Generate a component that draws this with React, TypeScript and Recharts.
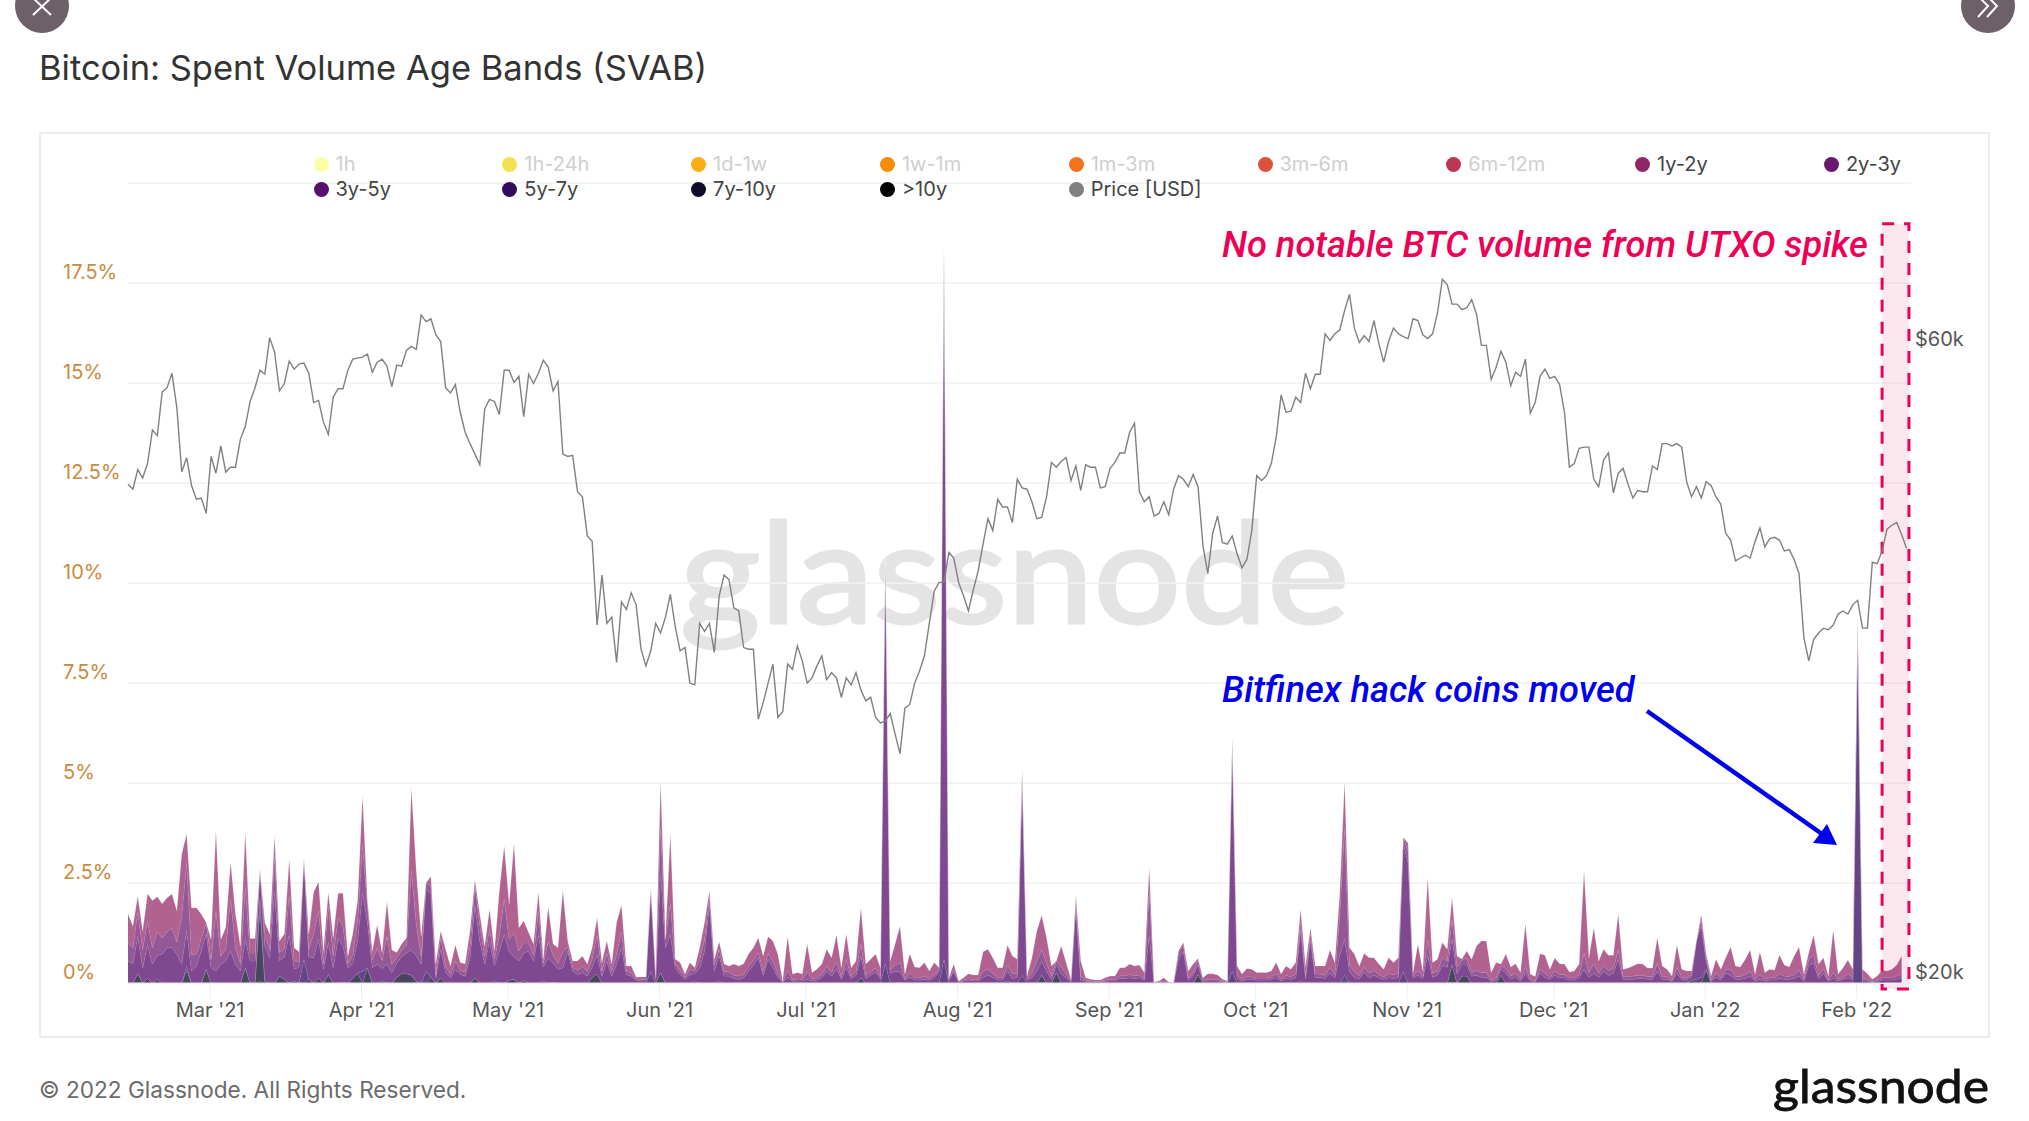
import React from 'react';
import { ComposedChart, Area, Line, XAxis, YAxis, CartesianGrid, ReferenceArea, Legend } from 'recharts';

// Chart values -------------------------------------------------------------
const FIRST_DAY = '2021-02-12';
const monthTickDays = [16.8, 47.8, 77.8, 108.8, 138.8, 169.8, 200.8, 230.8, 261.8, 291.8, 322.8, 353.8];
const monthLabels = ["Mar '21", "Apr '21", "May '21", "Jun '21", "Jul '21", "Aug '21", "Sep '21", "Oct '21", "Nov '21", "Dec '21", "Jan '22", "Feb '22"];
const percentTicks = [0, 2.5, 5, 7.5, 10, 12.5, 15, 17.5, 20];
const percentLabels = ['0%', '2.5%', '5%', '7.5%', '10%', '12.5%', '15%', '17.5%', ''];
const priceTicks = [20, 60];

// BTC price, thousands of USD, one value per day
const priceK = [
  46.6,46.2,47.8,47.1,48.3,51.2,50.7,54.7,55.1,56.5,
  53.2,47.6,48.8,46.5,45.4,45.5,44.3,48.9,47.5,49.8,
  47.6,48.0,48.0,50.4,51.5,53.8,55.1,56.8,56.4,60.1,
  58.6,54.8,55.5,57.7,56.9,57.4,57.5,56.5,53.7,53.9,
  51.9,50.8,54.2,55.0,55.0,56.8,57.9,58.0,58.1,58.4,
  56.6,57.6,57.9,57.2,55.2,57.3,57.2,58.8,59.2,58.9,
  62.5,61.8,62.1,60.4,59.7,55.1,54.6,55.4,52.8,51.0,
  50.0,49.1,48.2,53.1,54.0,53.8,52.6,56.8,56.8,55.6,
  56.2,52.4,56.4,55.5,56.5,57.8,57.1,54.8,55.7,49.1,
  48.9,49.0,46.0,45.6,42.6,42.2,36.5,39.8,36.6,37.0,
  34.2,38.0,37.5,38.6,37.8,35.0,34.0,34.9,36.6,36.0,
  37.0,38.5,36.4,34.9,35.1,33.0,32.9,36.6,36.1,36.6,
  34.8,38.4,39.8,39.5,37.6,37.4,35.1,35.0,35.0,31.0,
  31.9,33.0,34.1,31.1,31.4,34.1,33.8,35.2,34.3,33.0,
  33.3,34.0,34.6,33.2,33.6,33.3,32.2,33.3,32.9,33.6,
  32.6,32.0,32.2,31.1,30.8,30.9,31.3,30.2,29.2,31.6,
  31.8,33.0,33.7,34.6,36.6,38.7,39.3,39.3,41.4,41.0,
  39.3,38.4,37.4,38.8,40.1,42.0,43.9,43.0,45.4,44.8,
  44.8,43.6,47.0,46.3,46.2,45.2,43.9,44.0,45.6,48.4,
  48.0,48.5,48.8,46.9,48.1,46.1,48.2,48.0,48.0,46.3,
  46.4,47.9,48.4,49.2,49.2,51.0,51.8,46.0,45.2,45.6,
  44.1,44.3,45.2,44.2,46.2,47.3,47.0,46.4,47.4,46.4,
  41.9,39.9,42.8,44.1,42.1,42.0,42.6,41.3,40.3,40.9,
  43.0,47.3,46.9,47.3,48.3,50.6,54.4,52.8,52.9,54.2,
  53.7,56.5,55.0,56.4,56.4,60.5,59.8,60.5,60.9,63.0,
  64.8,61.1,59.6,60.3,59.7,61.9,59.5,57.6,59.7,61.1,
  60.5,60.2,60.0,62.1,61.9,60.4,60.0,60.5,62.7,66.5,
  65.9,63.7,63.7,63.1,63.3,64.2,62.6,59.3,59.3,55.9,
  57.1,58.7,57.6,55.3,56.6,56.2,57.9,52.7,53.7,56.2,
  56.9,56.0,56.2,55.4,52.8,48.0,48.3,49.6,49.7,49.7,
  47.0,46.4,48.6,49.2,45.9,47.5,47.9,46.6,45.5,46.1,
  46.0,46.0,48.1,47.8,50.0,50.0,49.8,50.0,49.7,46.8,
  45.6,46.4,45.5,46.8,46.5,45.6,45.0,42.8,42.3,40.8,
  41.0,41.2,41.0,42.2,43.2,41.8,42.4,42.5,42.3,41.5,
  41.6,40.9,39.9,35.7,34.3,35.6,36.0,36.3,36.2,36.5,
  37.2,37.4,37.2,37.8,38.1,36.3,36.3,40.7,40.6,41.5,
  43.1,43.4,43.6,42.7,41.7,
];

// Stack height per day, hundredths of a percent
const totalStack = [
  173,143,218,131,224,207,216,199,214,223,
  181,323,373,188,189,173,152,110,381,110,
  139,302,173,93,377,112,112,285,152,123,
  368,106,123,310,89,79,314,123,228,254,
  81,227,114,225,225,68,123,206,468,206,
  81,146,77,204,83,77,98,114,489,281,
  118,251,267,48,131,85,43,96,52,49,
  131,258,173,93,185,81,231,343,198,349,
  139,156,127,98,228,60,191,98,89,231,
  106,56,56,68,48,89,164,52,106,48,
  152,195,43,43,16,16,16,238,23,505,
  114,373,60,52,23,52,39,89,152,231,
  60,104,48,43,48,43,49,73,89,114,
  68,117,106,73,6,117,23,27,23,98,
  27,35,48,85,64,121,39,123,39,56,
  189,48,60,73,39,1060,56,98,143,23,
  74,41,39,52,31,52,39,1835,14,48,
  6,14,24,21,21,79,85,64,39,39,
  96,68,60,535,18,64,131,170,114,43,
  56,93,52,10,218,56,14,10,8,8,
  14,18,18,39,39,48,43,46,27,289,
  3,6,14,3,2,81,102,31,48,62,
  14,24,24,21,10,6,615,43,23,37,
  35,27,27,27,31,52,23,43,35,52,
  185,43,139,43,43,43,83,52,223,505,
  89,73,43,75,64,64,48,35,64,52,
  64,365,350,27,98,31,264,52,60,102,
  85,214,68,61,81,60,93,106,106,27,
  52,48,73,41,49,27,148,23,17,74,
  70,35,63,49,48,28,31,48,281,64,
  139,56,85,70,70,173,35,38,43,49,
  48,38,38,114,43,35,18,96,35,31,
  31,106,171,73,18,60,35,64,91,43,
  41,60,83,23,79,27,35,33,71,46,
  41,68,91,23,77,121,48,64,18,133,
  23,39,58,35,915,35,24,10,18,33,
  31,35,46,68,
];

const band3y5y = [
  56,48,93,39,85,48,60,73,89,89,
  73,48,89,31,43,81,89,39,31,48,
  56,81,48,31,72,56,56,172,89,64,
  230,39,56,122,31,39,297,56,64,97,
  35,81,39,114,89,39,39,81,198,114,
  39,48,31,48,27,35,43,52,64,64,
  48,206,206,14,72,27,14,35,22,18,
  64,181,106,48,106,39,81,122,72,56,
  56,68,81,56,122,35,64,48,35,39,
  81,31,22,27,18,27,48,18,56,18,
  48,89,22,18,8,6,6,231,10,248,
  89,122,39,22,10,22,18,39,81,198,
  31,64,18,18,12,10,14,30,45,65,
  20,60,40,15,3,15,5,6,6,10,
  6,8,14,30,18,35,10,40,12,20,
  55,12,20,28,12,1000,25,30,25,8,
  15,8,8,10,8,14,30,1740,8,30,
  3,6,8,6,6,15,20,15,8,8,
  25,12,15,480,8,15,30,35,30,10,
  20,25,14,4,190,8,5,4,3,3,
  5,6,6,12,12,14,12,14,8,120,
  1,2,4,1,1,60,80,8,20,25,
  5,6,6,6,3,2,560,12,6,10,
  10,8,8,8,10,14,6,12,10,14,
  130,12,110,15,15,12,25,14,70,90,
  30,14,12,28,14,20,14,10,14,12,
  15,320,300,14,20,12,70,15,20,45,
  40,65,25,30,30,18,20,15,15,5,
  8,15,25,10,15,6,25,6,4,25,
  15,10,20,14,14,8,8,14,35,15,
  25,15,30,20,25,60,10,10,10,12,
  12,10,10,30,10,10,5,25,10,8,
  8,110,130,20,5,15,8,25,20,10,
  10,12,18,6,10,6,8,8,12,10,
  10,12,18,6,45,50,12,25,5,12,
  6,10,14,10,20,8,6,2,4,8,
  8,8,10,14,
];

const band2y3y = [
  45,40,60,45,60,40,60,40,40,50,
  30,120,170,40,30,30,40,20,150,20,
  30,130,40,20,130,20,20,60,30,20,
  90,20,20,100,20,15,10,20,60,70,
  15,90,30,50,50,10,20,50,120,40,
  20,40,20,70,20,15,15,20,200,80,
  20,20,20,8,30,15,8,20,10,10,
  30,50,40,20,30,15,40,90,30,60,
  25,25,20,15,60,10,40,20,15,40,
  10,10,10,15,12,20,50,12,20,12,
  25,40,8,8,4,4,4,5,6,120,
  20,80,10,10,5,12,8,20,30,20,
  15,15,12,10,8,8,8,12,12,12,
  10,15,14,10,1,18,4,5,4,18,
  5,6,8,12,10,20,6,20,6,10,
  30,8,8,10,6,30,8,15,25,3,
  10,6,6,8,4,8,5,40,3,5,
  1,2,4,3,3,15,15,10,6,6,
  15,12,10,30,3,10,25,30,20,8,
  10,15,10,2,15,10,3,2,2,2,
  3,4,4,7,7,8,7,7,4,110,
  1,1,2,1,0,15,15,5,8,12,
  3,4,4,4,2,1,40,8,4,7,
  6,5,5,5,6,10,4,8,6,10,
  20,8,15,8,8,8,15,8,100,280,
  15,15,8,12,12,12,8,6,10,10,
  10,30,30,5,12,6,40,10,10,20,
  15,50,15,10,15,10,12,12,12,3,
  6,8,12,8,10,5,15,4,3,10,
  10,6,10,8,8,5,6,8,40,12,
  25,10,15,12,12,25,6,7,8,8,
  8,7,7,20,8,6,3,15,6,6,
  6,15,15,12,3,10,6,10,15,7,
  7,10,12,4,12,4,6,6,12,8,
  7,10,15,4,15,20,8,12,3,15,
  4,6,10,6,10,6,4,2,4,6,
  6,6,8,10,
];

// Occasional bands: [day, hundredths of a percent]
const band5y7y = [[12,10],[27,30],[36,60],[48,30],[61,30],[107,30],[155,50],[167,60],[183,20],[226,30],[249,15],[261,30],[321,10],[322,15],[354,860]];
const band7y10y = [[2,22],[4,12],[6,10],[12,33],[16,35],[24,39],[27,180],[28,5],[31,18],[32,10],[34,6],[37,10],[39,14],[41,22],[44,4],[46,12],[47,26],[49,39],[52,6],[55,15],[56,24],[57,24],[58,20],[59,5],[62,16],[64,14],[71,14],[75,6],[78,8],[79,10],[81,8],[85,6],[87,3],[95,14],[96,24],[109,24],[116,6],[121,6],[150,14],[158,3],[180,6],[187,18],[190,27],[219,22],[240,6],[249,6],[271,43],[273,18],[274,18],[281,21],[320,8],[323,31]];
const bandOver10y = [[2,3],[27,5],[109,3],[187,3],[271,4],[323,3]];

// Series and legend -------------------------------------------------------
const legendNames = ['1h','1h-24h','1d-1w','1w-1m','1m-3m','3m-6m','6m-12m','1y-2y','2y-3y','3y-5y','5y-7y','7y-10y','>10y','Price [USD]'];
const legendColors = ['#FCFFA4','#F1E04F','#FBAE12','#F98C0A','#F1731D','#DD513A','#BB3754','#932667','#6A176E','#57106E','#320A5E','#0E0B2B','#000000','#808080'];
const legendMuted = ['1h','1h-24h','1d-1w','1w-1m','1m-3m','3m-6m','6m-12m'];
const stackOrder = ['>10y','7y-10y','5y-7y','3y-5y','2y-3y','1y-2y'];
const stackOpacity = [0.76, 0.76, 0.76, 0.76, 0.72, 0.72];

const sparse = (pairs: number[][]) => new Map(pairs.map((p) => [p[0], p[1]] as [number, number]));
const over10 = sparse(bandOver10y), s7 = sparse(band7y10y), s5 = sparse(band5y7y);

const table = priceK.map((price, day) => {
  const row: any = { day, price };
  if (day >= totalStack.length) {
    stackOrder.forEach((k) => (row[k] = null));
    return row;
  }
  let left = totalStack[day] / 100;
  const take = (v: number) => { const t = Math.min(v / 100, left); left -= t; return t; };
  row['>10y'] = take(over10.get(day) ?? 0);
  row['7y-10y'] = take(s7.get(day) ?? 0);
  row['5y-7y'] = take(s5.get(day) ?? 0);
  row['3y-5y'] = take(band3y5y[day]);
  row['2y-3y'] = take(band2y3y[day]);
  row['1y-2y'] = left;
  return row;
});

const colorOf = (name: string) => legendColors[legendNames.indexOf(name)];

const F = 'Inter, sans-serif';

const LegendGrid = () => (
  <div style={{ position: 'relative', width: 2029, height: 0 }}>
    {legendNames.map((name, i) => {
      const col = i < 9 ? i : i - 9;
      const row = i < 9 ? 0 : 1;
      return (
        <div key={name} style={{ position: 'absolute', left: 313.5 + col * 188.8, top: 152 + row * 25, height: 24, display: 'flex', alignItems: 'center', whiteSpace: 'nowrap' }}>
          <span style={{ width: 15, height: 15, borderRadius: '50%', background: legendColors[i], display: 'inline-block', marginRight: 7 }} />
          <span style={{ fontFamily: F, fontSize: 20, color: legendMuted.includes(name) ? '#cfcfcf' : '#444' }}>{name}</span>
        </div>
      );
    })}
  </div>
);

const PercentTick = (p: any) => (
  <text x={63} y={p.y - 11} dominantBaseline="central" fontFamily={F} fontSize={20} fill="#cc8a3c">
    {percentLabels[percentTicks.indexOf(p.payload.value)]}
  </text>
);

const PriceTick = (p: any) => (
  <text x={1915} y={p.y} dominantBaseline="central" fontFamily={F} fontSize={20} fill="#555">
    {`$${p.payload.value}k`}
  </text>
);

export default function App() {
  return (
    <div style={{ position: 'absolute', left: 0, top: 0, width: 2029, height: 1121, background: '#fff', overflow: 'hidden' }}>
      <div style={{ position: 'absolute', left: 39, top: 132, width: 1951, height: 906, border: '2px solid #ececec', boxSizing: 'border-box' }} />
      <div style={{ position: 'absolute', left: 39, top: 47, fontFamily: F, fontSize: 34.5, color: '#333', whiteSpace: 'nowrap' }}>
        Bitcoin: Spent Volume Age Bands (SVAB)
      </div>
      <div style={{ position: 'absolute', left: 39, top: 1076, fontFamily: F, fontSize: 22.6, color: '#6b6b6b', whiteSpace: 'nowrap' }}>
        © 2022 Glassnode. All Rights Reserved.
      </div>

      <svg width={2029} height={1121} style={{ position: 'absolute', left: 0, top: 0 }}>
        <text x={680} y={623} fontFamily="Lato, sans-serif" fontSize={140} fill="#e4e4e4" stroke="#e4e4e4" strokeWidth={3} textLength={669} lengthAdjust="spacingAndGlyphs">glassnode</text>
        <text x={1773} y={1103} fontFamily="Lato, sans-serif" fontSize={47} fill="#111" stroke="#111" strokeWidth={0.8} textLength={216} lengthAdjust="spacingAndGlyphs">glassnode</text>
        <circle cx={42} cy={6} r={27} fill="#6e6068" />
        <path d="M33 -2 L51 15 M51 -2 L33 15" stroke="#fff" strokeWidth={2} />
        <circle cx={1988} cy={6} r={27} fill="#6e6068" />
        <path d="M1978 -4 L1988 6 L1978 17 M1987 -4 L1997 6 L1987 17" stroke="#fff" strokeWidth={2} fill="none" />
      </svg>

      <div style={{ position: 'absolute', left: 0, top: 0 }}>
        <ComposedChart width={2029} height={1121} data={table} margin={{ top: 183, right: 0, bottom: 97.7, left: 0 }}>
          <CartesianGrid yAxisId="pct" horizontal vertical={false} stroke="#f2f2f2" strokeWidth={1.5} />
          <XAxis
            dataKey="day"
            type="number"
            domain={[0, 365]}
            ticks={monthTickDays}
            tickFormatter={(v: number) => monthLabels[monthTickDays.indexOf(v)]}
            tick={{ fontFamily: F, fontSize: 20, fill: '#555' }}
            tickSize={16}
            tickMargin={3}
            tickLine={{ stroke: '#eeeeee' }}
            axisLine={{ stroke: '#eeeeee', strokeWidth: 1.5 }}
            interval={0}
            height={40}
          />
          <YAxis yAxisId="pct" orientation="left" width={128} domain={[0, 20]} ticks={percentTicks} tick={<PercentTick />} axisLine={false} tickLine={false} interval={0} />
          <YAxis yAxisId="price" orientation="right" width={117.6} scale="log" domain={[19.6, 78.6]} ticks={priceTicks} allowDataOverflow tick={<PriceTick />} axisLine={false} tickLine={false} interval={0} />
          <ReferenceArea yAxisId="pct" x1={359} x2={364.5} y1={-0.14} y2={18.98} ifOverflow="visible" fill="#f2457e" fillOpacity={0.13} stroke="#e8005a" strokeWidth={3} strokeDasharray="12 10" />
          {stackOrder.map((name, i) => (
            <Area
              key={name}
              yAxisId="pct"
              type="linear"
              dataKey={name}
              stackId="svab"
              stroke="#ffffff"
              strokeOpacity={0.22}
              strokeWidth={0.8}
              fill={colorOf(name)}
              fillOpacity={stackOpacity[i]}
              dot={false}
              activeDot={false}
              isAnimationActive={false}
            />
          ))}
          <Line yAxisId="price" type="linear" dataKey="price" stroke="#808080" strokeWidth={1.4} dot={false} activeDot={false} isAnimationActive={false} />
          <Legend layout="horizontal" verticalAlign="middle" align="center" content={<LegendGrid />} wrapperStyle={{ position: 'absolute', left: 0, top: 0, width: 2029, height: 0 }} />
        </ComposedChart>
      </div>

      <svg width={2029} height={1121} style={{ position: 'absolute', left: 0, top: 0, pointerEvents: 'none' }}>
        <text x={1222} y={257} fontFamily="Roboto, sans-serif" fontStyle="italic" fontWeight={500} fontSize={36.25} fill="#ee0055">No notable BTC volume from UTXO spike</text>
        <text x={1222} y={702} fontFamily="Roboto, sans-serif" fontStyle="italic" fontWeight={500} fontSize={36.25} fill="#0000ee">Bitfinex hack coins moved</text>
        <line x1={1647} y1={711} x2={1822} y2={834} stroke="#0000ee" strokeWidth={4.5} />
        <polygon points="1837,845 1813,843 1827,824" fill="#0000ee" />
      </svg>
    </div>
  );
}
